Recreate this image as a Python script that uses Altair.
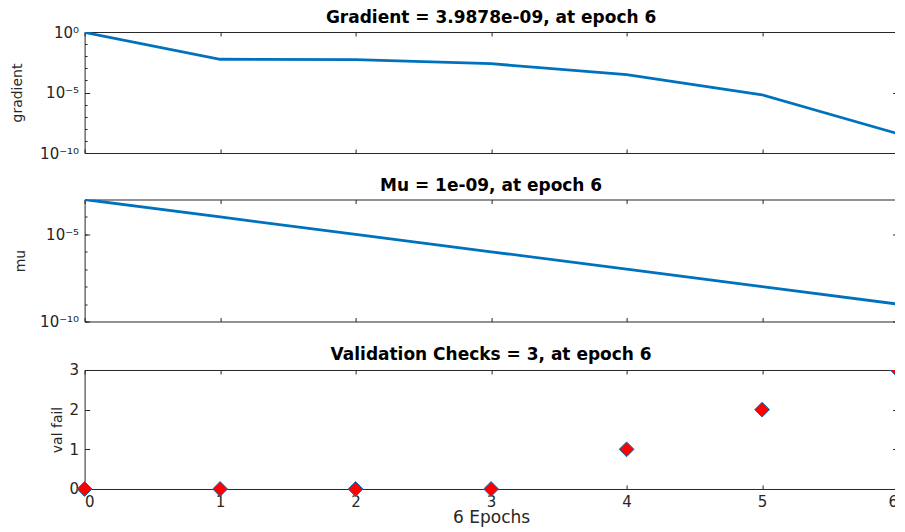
import altair as alt
import pandas as pd

# ---- data ----
epochs = [0, 1, 2, 3, 4, 5, 6]
gradient = [0.92, 5.6e-3, 5.2e-3, 2.4e-3, 3.0e-4, 6.5e-6, 3.9878e-9]
mu = [1e-3, 1e-4, 1e-5, 1e-6, 1e-7, 1e-8, 1e-9]
val_fail = [0, 0, 0, 0, 1, 2, 3]

panel_titles = [
    "Gradient = 3.9878e-09, at epoch 6",
    "Mu = 1e-09, at epoch 6",
    "Validation Checks = 3, at epoch 6",
]
y_titles = ["gradient", "mu", "val fail"]
x_title = "6 Epochs"

grad_domain = [1e-10, 1]
grad_major = [1e-10, 1e-5, 1]
grad_minor = [1e-10, 1e-9, 1e-8, 1e-7, 1e-6, 1e-5, 1e-4, 1e-3, 1e-2, 1e-1, 1]
grad_labels = {0: "10⁰", -5: "10⁻⁵", -10: "10⁻¹⁰"}

mu_domain = [1e-10, 1e-3]
mu_major = [1e-10, 1e-5]
mu_minor = [1e-10, 1e-9, 1e-8, 1e-7, 1e-6, 1e-5, 1e-4, 1e-3]
mu_labels = {-5: "10⁻⁵", -10: "10⁻¹⁰"}

val_domain = [0, 3]
val_ticks = [0, 1, 2, 3]

# ---- style ----
LINE = "#0072BD"
FILL = "#FF0000"
INK = "#262626"
FONT = "DejaVu Sans"
W = 813
AX = dict(minExtent=0, maxExtent=200)

df = pd.DataFrame({"epoch": epochs, "gradient": gradient, "mu": mu, "val": val_fail})
x_scale = alt.Scale(domain=[min(epochs), max(epochs)], nice=False, zero=False)


def sup_expr(labels):
    e = "''"
    for exp, txt in labels.items():
        e = f"round(log(datum.value)/LN10) == {exp} ? '{txt}' : ({e})"
    return e


def x_bottom(show):
    kw = dict(orient="bottom", values=epochs, offset=-4, tickSize=4, labels=show, format="d",
              labelPadding=6, **AX)
    if show:
        kw.update(titleY=25, titleBaseline="top", titleFontSize=17)
    return alt.X("epoch:Q", scale=x_scale, title=x_title if show else None, axis=alt.Axis(**kw))


def x_top():
    return alt.X("epoch:Q", scale=x_scale, title=None,
                 axis=alt.Axis(orient="top", values=epochs, offset=-4, tickSize=4, labels=False, **AX))


def extra_axes(base, field, yscale, major, minor):
    layers = [
        base.mark_line(opacity=0).encode(
            x=x_top(),
            y=alt.Y(f"{field}:Q", scale=yscale, title=None,
                    axis=alt.Axis(orient="right", values=major, offset=-5, tickSize=5, labels=False, **AX)),
        )
    ]
    if minor:
        for side in ("left", "right"):
            layers.append(
                base.mark_line(opacity=0).encode(
                    x=alt.X("epoch:Q", scale=x_scale, axis=None),
                    y=alt.Y(f"{field}:Q", scale=yscale, title=None,
                            axis=alt.Axis(orient=side, values=minor, offset=-2.5, tickSize=2.5,
                                          labels=False, **AX)),
                )
            )
    return layers


def log_panel(field, domain, major, minor, labels, ytitle, title_x, title, height, toff):
    base = alt.Chart(df)
    yscale = alt.Scale(type="log", domain=domain, nice=False)
    main = base.mark_line(color=LINE, strokeWidth=2.8, clip=True).encode(
        x=x_bottom(False),
        y=alt.Y(f"{field}:Q", scale=yscale, title=ytitle,
                axis=alt.Axis(orient="left", values=major, offset=-5, tickSize=5, labelPadding=6,
                              labelExpr=sup_expr(labels), titleX=title_x,
                              titleBaseline="alphabetic", titleFontSize=14, **AX)),
    )
    return (
        alt.layer(main, *extra_axes(base, field, yscale, major, minor))
        .resolve_axis(x="independent", y="independent")
        .properties(width=W, height=height, title=alt.TitleParams(title, offset=toff))
    )


def val_panel(title, height, toff):
    base = alt.Chart(df)
    yscale = alt.Scale(domain=val_domain, nice=False, zero=False)
    last = max(epochs)
    yax = alt.Axis(orient="left", values=val_ticks, offset=-5, tickSize=5, labelPadding=6,
                   format="d", titleX=-28, titleBaseline="alphabetic", titleFontSize=14, **AX)
    pt = dict(shape="diamond", filled=True, fill=FILL, stroke=LINE, strokeWidth=1, size=220, opacity=1)
    pts = base.transform_filter(f"datum.epoch < {last}").mark_point(**pt).encode(
        x=x_bottom(True),
        y=alt.Y("val:Q", scale=yscale, title=y_titles[2], axis=yax),
    )
    pts_last = base.transform_filter(f"datum.epoch >= {last}").mark_point(clip=True, **pt).encode(
        x=alt.X("epoch:Q", scale=x_scale, axis=None),
        y=alt.Y("val:Q", scale=yscale, axis=None),
    )
    return (
        alt.layer(pts, pts_last, *extra_axes(base, "val", yscale, val_ticks, None))
        .resolve_axis(x="independent", y="independent")
        .properties(width=W, height=height, title=alt.TitleParams(title, offset=toff))
    )


p1 = log_panel("gradient", grad_domain, grad_major, grad_minor, grad_labels, y_titles[0], -68,
               panel_titles[0], 121, -1.9)
p2 = log_panel("mu", mu_domain, mu_major, mu_minor, mu_labels, y_titles[1], -65,
               panel_titles[1], 122, 3.9)
p3 = val_panel(panel_titles[2], 119, -0.9)

chart = (
    alt.vconcat(p1, p2, p3, spacing=14.5)
    .properties(padding={"left": 1.6, "top": 0, "right": -3.5, "bottom": 0})
    .configure_view(stroke=INK, strokeWidth=1)
    .configure_axis(
        minExtent=0, domain=False, grid=False, tickColor=INK, tickWidth=1,
        labelFont=FONT, labelFontSize=15, labelColor=INK,
        titleFont=FONT, titleColor=INK, titleFontWeight="normal",
    )
    .configure_title(font=FONT, fontSize=17, fontWeight="bold", color="#000000",
                     anchor="middle", frame="group")
)

chart.save("out.html", embed_options={"renderer": "svg", "actions": False})
